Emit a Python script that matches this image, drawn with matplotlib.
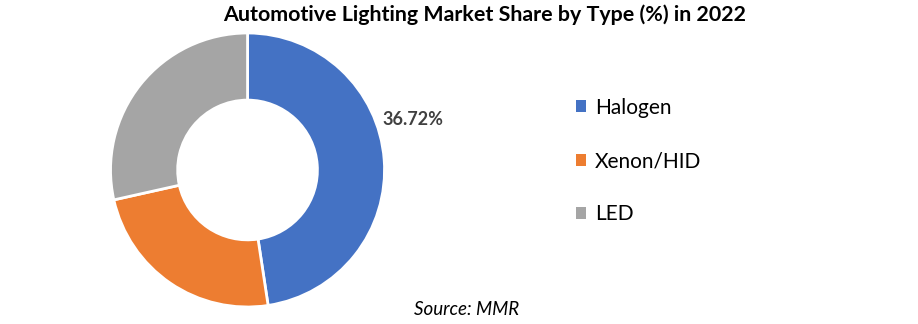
import matplotlib.pyplot as plt
from matplotlib.patches import Patch

categories = ['Halogen', 'Xenon/HID', 'LED']
shares = [47.6, 23.9, 28.5]
colors = ['#4472C4', '#ED7D31', '#A5A5A5']
label_text = '36.72%'

plt.rcParams['font.family'] = ['Lato', 'DejaVu Sans']

fig = plt.figure(figsize=(9.18, 3.24), dpi=100)
ax = fig.add_axes([0.1204, 0.0525, 0.2985, 0.8457])
ax.pie(shares, colors=colors, startangle=90, counterclock=False, radius=1,
       wedgeprops=dict(width=0.49, edgecolor='white', linewidth=2))
ax.set_xlim(-1, 1)
ax.set_ylim(-1, 1)
ax.set_aspect('equal')
ax.axis('off')

# data label to the right of the Halogen slice
ax.text(1.21, 0.365, label_text, ha='center', va='center',
        fontsize=13, fontweight='bold', color='#404040')

fig.suptitle('Automotive Lighting Market Share by Type (%) in 2022',
             x=0.528, y=0.985, fontsize=15.4, fontweight='bold')

handles = [Patch(facecolor=c, edgecolor='none') for c in colors]
fig.legend(handles, categories, loc='center left', bbox_to_anchor=(0.607, 0.503),
           frameon=False, fontsize=15, handlelength=0.5, handleheight=0.5,
           handletextpad=0.4, labelspacing=1.6)

fig.text(0.508, 0.045, 'Source: MMR', ha='center', va='center',
         fontsize=13.5, style='italic')

fig.savefig('out.png', dpi=100)
